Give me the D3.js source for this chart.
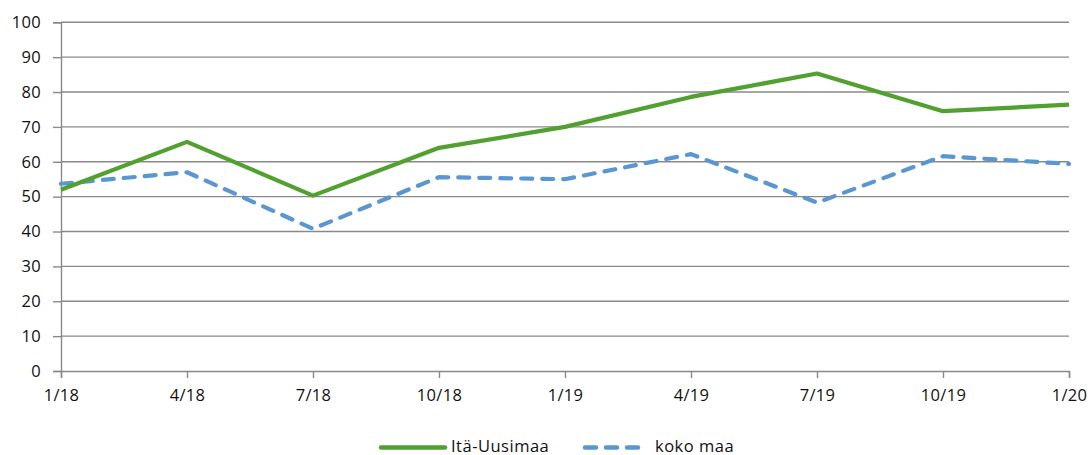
<!DOCTYPE html>
<html><head><meta charset="utf-8">
<script src="https://cdn.jsdelivr.net/npm/d3@7"></script>
<style>
html,body{margin:0;padding:0;background:#fff;}
svg{display:block;font-family:"Open Sans",sans-serif;}
</style></head>
<body><svg id="c" width="1091" height="455"></svg>
<script>
const categories = ["1/18","4/18","7/18","10/18","1/19","4/19","7/19","10/19","1/20"];
const itaUusimaa = [52, 65.7, 50.3, 64, 70, 78.6, 85.3, 74.5, 76.4];
const kokoMaa = [53.7, 57, 40.8, 55.6, 55, 62.2, 48.3, 61.6, 59.4];
const yTicks = [0,10,20,30,40,50,60,70,80,90,100];
const seriesNames = ["Itä-Uusimaa","koko maa"];

const svg = d3.select("#c");
const L = 61, R = 1069, T = 22.3, B = 371;
const gridColor = "#898989";
const textColor = "#111";
const green = "#52a030", blue = "#5a97d1";
const fs = "16.5px";

const x = d3.scalePoint().domain(categories).range([L, R]);
const y = d3.scaleLinear().domain([0,100]).range([B, T]);

// gridlines
svg.append("g").selectAll("line").data(yTicks.filter(d=>d>0)).join("line")
  .attr("x1", L).attr("x2", R).attr("y1", d=>y(d)).attr("y2", d=>y(d))
  .attr("stroke", gridColor).attr("stroke-width", 1.4);

// y axis
const yAx = svg.append("g").attr("transform", `translate(${L},0)`)
  .call(d3.axisLeft(y).tickValues(yTicks).tickSize(8).tickPadding(12));
yAx.select(".domain").attr("stroke", gridColor).attr("stroke-width", 1.4);
yAx.selectAll(".tick line").attr("stroke", gridColor).attr("stroke-width", 1.4);
yAx.selectAll("text").attr("fill", textColor).style("font-size",fs).style("font-family","'Open Sans',sans-serif").style("letter-spacing","0.3px");

// x axis
const xAx = svg.append("g").attr("transform", `translate(0,${B})`)
  .call(d3.axisBottom(x).tickSize(7).tickPadding(11));
xAx.select(".domain").attr("stroke", gridColor).attr("stroke-width", 1.4);
xAx.selectAll(".tick line").attr("stroke", gridColor).attr("stroke-width", 1.4);
xAx.selectAll("text").attr("fill", textColor).style("font-size",fs).style("font-family","'Open Sans',sans-serif").style("letter-spacing","0.3px");

const line = d3.line().x((d,i)=>x(categories[i])).y(d=>y(d));

svg.append("path").datum(kokoMaa).attr("d", line)
  .attr("fill","none").attr("stroke", blue).attr("stroke-width", 4.2)
  .attr("stroke-dasharray","11,10").attr("stroke-linecap","round").attr("stroke-linejoin","round");

svg.append("path").datum(itaUusimaa).attr("d", line)
  .attr("fill","none").attr("stroke", green).attr("stroke-width", 4.2)
  .attr("stroke-linejoin","round");

// legend
const lg = svg.append("g");
const ly = 447.5;
lg.append("line").attr("x1",381).attr("x2",445).attr("y1",ly).attr("y2",ly)
  .attr("stroke",green).attr("stroke-width",4.5).attr("stroke-linecap","round");
lg.append("text").attr("x",451).attr("y",451.5).text(seriesNames[0])
  .attr("fill",textColor).style("font-size",fs).style("letter-spacing","0.5px");
lg.append("line").attr("x1",585).attr("x2",640).attr("y1",ly).attr("y2",ly)
  .attr("stroke",blue).attr("stroke-width",4.5).attr("stroke-linecap","round")
  .attr("stroke-dasharray","11,10");
lg.append("text").attr("x",655).attr("y",451.5).text(seriesNames[1])
  .attr("fill",textColor).style("font-size",fs).style("letter-spacing","0.5px");
</script></body></html>
